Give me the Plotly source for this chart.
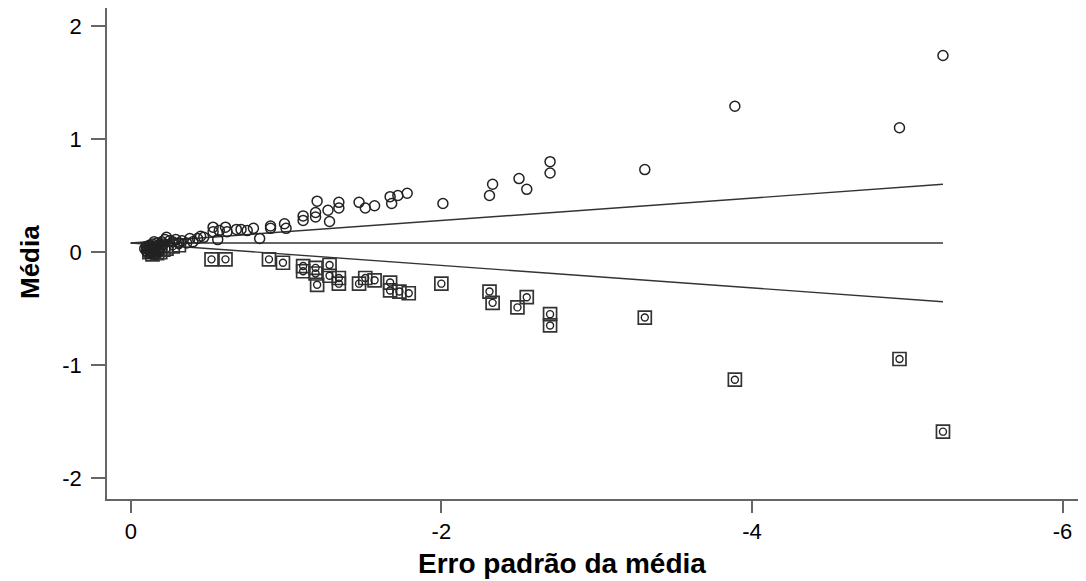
import plotly.graph_objects as go

# Observed studies (open circles): standard error (x, negative scale) and mean (y)
obs_x = [-0.09, -0.10, -0.10, -0.11, -0.11, -0.12, -0.12, -0.12, -0.13, -0.13,
         -0.14, -0.14, -0.15, -0.15, -0.15, -0.16, -0.16, -0.17, -0.17, -0.18,
         -0.18, -0.19, -0.20, -0.21, -0.22, -0.23, -0.25, -0.27,
         -0.29, -0.31, -0.33, -0.36, -0.38, -0.40, -0.43, -0.45, -0.47,
         -0.53, -0.53, -0.56, -0.57, -0.61, -0.62, -0.68, -0.71, -0.75, -0.79,
         -0.83, -0.90, -0.90, -0.99, -1.00, -1.11, -1.11, -1.19, -1.19, -1.20,
         -1.27, -1.28, -1.34, -1.34, -1.47, -1.51, -1.57, -1.67, -1.68, -1.72,
         -1.78, -2.01, -2.31, -2.33, -2.50, -2.55, -2.70, -2.70, -3.31, -3.89,
         -4.95, -5.23]
obs_y = [0.03, 0.05, 0.01, 0.03, -0.01, 0.06, 0.01, 0.04, 0.04, -0.01,
         0.02, 0.07, 0.00, 0.05, 0.09, 0.03, -0.02, 0.08, 0.01, 0.06,
         0.03, 0.04, 0.09, 0.07, 0.11, 0.13, 0.10, 0.09,
         0.11, 0.08, 0.10, 0.08, 0.12, 0.09, 0.12, 0.14, 0.13,
         0.22, 0.18, 0.11, 0.19, 0.22, 0.18, 0.20, 0.20, 0.19, 0.21,
         0.12, 0.23, 0.21, 0.25, 0.21, 0.32, 0.28, 0.35, 0.31, 0.45,
         0.37, 0.27, 0.44, 0.39, 0.44, 0.39, 0.41, 0.49, 0.43, 0.50,
         0.52, 0.43, 0.50, 0.60, 0.65, 0.555, 0.80, 0.70, 0.73, 1.29,
         1.10, 1.74]

# Imputed (filled) studies: squares
fill_x = [-0.12, -0.14, -0.15, -0.17, -0.19, -0.21, -0.23, -0.27, -0.31,
          -0.52, -0.61, -0.89, -0.98, -1.11, -1.11, -1.19, -1.19, -1.20,
          -1.28, -1.28, -1.34, -1.34, -1.47, -1.51, -1.57, -1.67, -1.67,
          -1.73, -1.79, -2.00, -2.31, -2.33, -2.49, -2.55, -2.70, -2.70,
          -3.31, -3.89, -4.95, -5.23]
fill_y = [0.00, -0.02, 0.01, -0.01, 0.00, 0.02, 0.03, 0.05, 0.06,
          -0.065, -0.065, -0.065, -0.095, -0.124, -0.17, -0.14, -0.19, -0.29,
          -0.115, -0.21, -0.23, -0.28, -0.28, -0.23, -0.25, -0.27, -0.34,
          -0.35, -0.365, -0.28, -0.35, -0.45, -0.49, -0.40, -0.55, -0.65,
          -0.58, -1.13, -0.947, -1.59]

# Funnel (pseudo confidence) lines
funnel_x = [0.0, -5.23]
center_y = [0.08, 0.08]
upper_y = [0.08, 0.60]
lower_y = [0.08, -0.44]

x_ticks = [0, -2, -4, -6]
x_ticktext = ["0", "-2", "-4", "-6"]
y_ticks = [2, 1, 0, -1, -2]
y_ticktext = ["2", "1", "0", "-1", "-2"]

line_col = "#333333"
fig = go.Figure()
for yy in (upper_y, center_y, lower_y):
    fig.add_trace(go.Scatter(x=funnel_x, y=yy, mode="lines",
                             line=dict(color=line_col, width=1.4),
                             showlegend=False, hoverinfo="skip"))

fig.add_trace(go.Scatter(x=fill_x, y=fill_y, mode="markers",
                         marker=dict(symbol="square-open", size=13,
                                     color="#333333",
                                     line=dict(color="#333333", width=1.7)),
                         showlegend=False))
fig.add_trace(go.Scatter(x=fill_x, y=fill_y, mode="markers",
                         marker=dict(symbol="circle-open", size=7,
                                     color="#222222",
                                     line=dict(color="#222222", width=1.4)),
                         showlegend=False))
fig.add_trace(go.Scatter(x=obs_x, y=obs_y, mode="markers",
                         marker=dict(symbol="circle-open", size=10,
                                     color="#222222",
                                     line=dict(color="#222222", width=1.5)),
                         showlegend=False))

# The page body adds an 8px offset; the figure is sized to fill the rest.
W, H = 1078, 573
ml, mt, mb = 99, 0, 82
plot_w = W - ml
plot_h = H - mt - mb

font_family = "Liberation Sans, Arial, sans-serif"
fig.update_layout(
    width=W, height=H,
    margin=dict(l=ml, r=0, t=mt, b=mb, pad=0),
    paper_bgcolor="white", plot_bgcolor="white",
    font=dict(family=font_family, size=22, color="black"),
    showlegend=False,
    xaxis=dict(range=[0.153, -6.151], tickmode="array", tickvals=x_ticks,
               ticktext=x_ticktext, showgrid=False, zeroline=False,
               showline=True, linecolor="#666666", linewidth=1.5,
               ticks="outside", ticklen=12, tickwidth=1.5, tickcolor="#666666",
               tickfont=dict(size=22, color="black")),
    yaxis=dict(range=[-2.186, 2.16], tickmode="array", tickvals=y_ticks,
               ticktext=y_ticktext, showgrid=False, zeroline=False,
               showline=True, linecolor="#666666", linewidth=1.5,
               ticks="outside", ticklen=14, tickwidth=1.5, tickcolor="#666666",
               ticklabelstandoff=5,
               tickfont=dict(size=22, color="black")),
    annotations=[
        dict(text="<b>Erro padrão da média</b>", xref="paper", yref="paper",
             x=(554 - ml) / plot_w, y=(plot_h - 555) / plot_h, xanchor="center",
             yanchor="middle", showarrow=False,
             font=dict(size=28, color="black", family=font_family)),
        dict(text="<b>Média</b>", xref="paper", yref="paper",
             x=(22 - ml) / plot_w, y=(plot_h - 254) / plot_h, xanchor="center",
             yanchor="middle", textangle=-90, showarrow=False,
             font=dict(size=26, color="black", family=font_family)),
    ],
)

fig.write_html("out.html")
